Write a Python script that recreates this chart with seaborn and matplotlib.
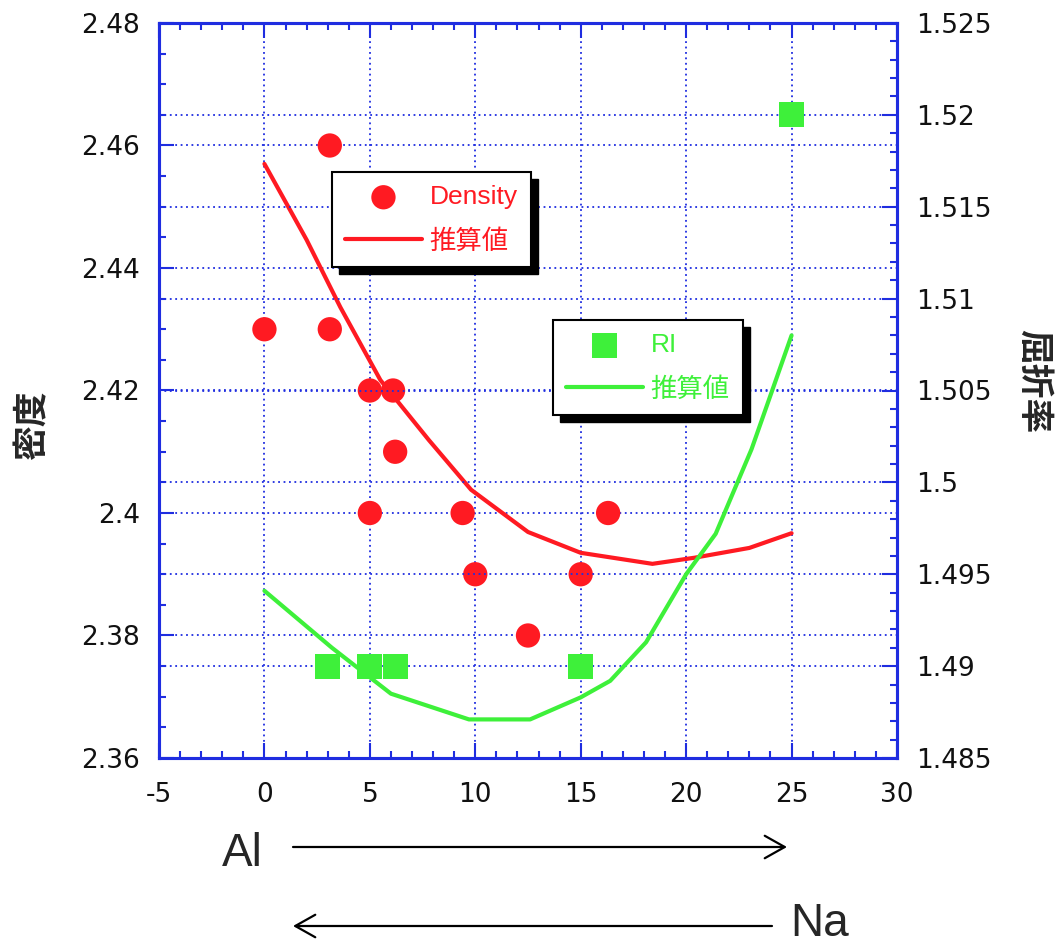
import matplotlib
matplotlib.use("Agg")
import matplotlib.pyplot as plt
import seaborn as sns
from matplotlib.ticker import MultipleLocator, FixedLocator
from matplotlib.patches import Rectangle
from matplotlib.font_manager import FontProperties
from matplotlib.transforms import IdentityTransform

# ---------------- data ----------------
density_x = [0, 3.1, 3.1, 5, 6.1, 6.2, 5, 9.4, 10, 12.5, 15, 16.3]
density_y = [2.43, 2.46, 2.43, 2.42, 2.42, 2.41, 2.40, 2.40, 2.39, 2.38, 2.39, 2.40]

ri_x = [3, 5, 6.2, 15, 25]
ri_y = [1.49, 1.49, 1.49, 1.49, 1.52]

density_est_x = [0, 2, 3.6, 5.5, 7.8, 9.8, 12.5, 15, 18.4, 20.4, 23, 25]
density_est_y = [2.457, 2.4446, 2.4336, 2.4217, 2.4119, 2.4038, 2.3969, 2.3935,
                 2.3917, 2.3927, 2.3943, 2.3967]

ri_est_x = [0, 3.2, 6, 9.7, 12.6, 15, 16.4, 18.1, 20, 21.4, 23.1, 25]
ri_est_y = [1.4941, 1.4910, 1.4885, 1.4871, 1.4871, 1.4883, 1.4892, 1.4913,
            1.4950, 1.4972, 1.5018, 1.5080]

x_ticks = [-5, 0, 5, 10, 15, 20, 25, 30]
x_tick_labels = ["-5", "0", "5", "10", "15", "20", "25", "30"]
left_ticks = [2.36, 2.38, 2.40, 2.42, 2.44, 2.46, 2.48]
left_tick_labels = ["2.36", "2.38", "2.4", "2.42", "2.44", "2.46", "2.48"]
right_ticks = [1.485, 1.49, 1.495, 1.50, 1.505, 1.51, 1.515, 1.52, 1.525]
right_tick_labels = ["1.485", "1.49", "1.495", "1.5", "1.505", "1.51", "1.515", "1.52", "1.525"]

left_label = "密度"
right_label = "屈折率"
density_label = "Density"
ri_label = "RI"
est_label = "推算値"

# ---------------- style ----------------
sns.set_style("white")
plt.rcParams["font.family"] = ["DejaVu Sans", "Noto Sans CJK JP"]
plt.rcParams["axes.unicode_minus"] = False

BLUE = "#1f2de0"
RED = "#ff1a22"
GREEN = "#3ef03a"
W, H = 1058, 944

fig = plt.figure(figsize=(W / 100, H / 100), dpi=100)
ax = fig.add_axes([159 / W, 1 - 758 / H, (897 - 159) / W, (758 - 23) / H])
ax2 = ax.twinx()

# ---------------- density (left axis) ----------------
sns.lineplot(x=density_est_x, y=density_est_y, ax=ax, color=RED, lw=3,
             label=est_label, legend=False, zorder=3)
sns.scatterplot(x=density_x, y=density_y, ax=ax, color=RED, s=17.5 ** 2,
                marker="o", edgecolor="none", label=density_label,
                legend=False, zorder=4)

# ---------------- RI (right axis) ----------------
sns.lineplot(x=ri_est_x, y=ri_est_y, ax=ax2, color=GREEN, lw=3,
             label=est_label, legend=False, zorder=3)
sns.scatterplot(x=ri_x, y=ri_y, ax=ax2, color=GREEN, s=18 ** 2,
                marker="s", edgecolor="none", label=ri_label,
                legend=False, zorder=4)

# ---------------- axes ----------------
ax.set_xlim(-5, 30)
ax.set_ylim(2.36, 2.48)
ax2.set_ylim(1.485, 1.525)

ax.xaxis.set_major_locator(FixedLocator(x_ticks))
ax.set_xticklabels(x_tick_labels)
ax.xaxis.set_minor_locator(MultipleLocator(1))
ax.yaxis.set_major_locator(FixedLocator(left_ticks))
ax.set_yticklabels(left_tick_labels)
ax.yaxis.set_minor_locator(MultipleLocator(0.005))
ax2.yaxis.set_major_locator(FixedLocator(right_ticks))
ax2.set_yticklabels(right_tick_labels)
ax2.yaxis.set_minor_locator(MultipleLocator(0.001))

for a in (ax, ax2):
    for sp in a.spines.values():
        sp.set_color(BLUE)
        sp.set_linewidth(2.2)
    a.set_xlabel("")
    a.set_ylabel("")

ax.tick_params(axis="both", which="both", direction="in", color=BLUE, width=1.5,
               labelsize=19, labelcolor="#111111")
ax.tick_params(which="major", length=11)
ax.tick_params(which="minor", length=5)
ax.tick_params(axis="x", which="both", top=True, bottom=True, pad=17)
ax.tick_params(axis="y", which="both", left=True, right=False, pad=13.5)
ax2.tick_params(axis="y", which="both", direction="in", color=BLUE, width=1.5,
                left=False, right=True, labelsize=19, labelcolor="#111111", pad=14)
ax2.tick_params(axis="y", which="major", length=11)
ax2.tick_params(axis="y", which="minor", length=5)

grid_kw = dict(color=BLUE, linestyle=(0, (1, 2)), linewidth=1.3)
ax.grid(axis="x", which="major", **grid_kw)
ax.grid(axis="y", which="major", **grid_kw)
ax2.grid(axis="y", which="major", **grid_kw)
ax2.grid(axis="x", visible=False)

# ---------------- axis titles ----------------
cjk_bold = dict(family=["Noto Sans CJK JP", "DejaVu Sans"], weight="bold", size=25)
fig.text(32 / W, 1 - 425 / H, left_label, rotation=90, ha="center", va="center", **cjk_bold)
fig.text(1034 / W, 1 - 381 / H, right_label, rotation=-90, ha="center", va="center", **cjk_bold)

# ---------------- legends ----------------
h_dens_line, h_dens_pts = ax.get_legend_handles_labels()[0][:2]
h_ri_line, h_ri_pts = ax2.get_legend_handles_labels()[0][:2]

leg_font = FontProperties(family=["Liberation Sans", "Noto Sans CJK JP"], size=19)
leg_kw = dict(loc="upper left", bbox_transform=fig.transFigure, borderaxespad=0,
              frameon=True, fancybox=False, edgecolor="black", framealpha=1,
              handlelength=2.9, handletextpad=0.3, borderpad=0.5,
              labelspacing=0.75, prop=leg_font)
leg1 = ax2.legend(handles=[h_dens_pts, h_dens_line], labels=[density_label, est_label],
                  bbox_to_anchor=(332 / W, 1 - 172 / H), labelcolor=RED, **leg_kw)
ax2.add_artist(leg1)
leg2 = ax2.legend(handles=[h_ri_pts, h_ri_line], labels=[ri_label, est_label],
                  bbox_to_anchor=(553 / W, 1 - 320 / H), labelcolor=GREEN, **leg_kw)
for leg in (leg1, leg2):
    leg.get_frame().set_linewidth(1.5)
    leg.set_zorder(6)

fig.canvas.draw()
for leg in (leg1, leg2):
    bb = leg.get_window_extent()
    shadow = Rectangle((bb.x0 + 7, bb.y0 - 7), bb.width, bb.height,
                       transform=IdentityTransform(), facecolor="black",
                       edgecolor="black", zorder=5.9)
    ax2.add_artist(shadow)

# ---------------- Al / Na arrows ----------------
arrow_kw = dict(arrowstyle="->,head_length=0.8,head_width=0.45", lw=1.6,
                color="black", shrinkA=0, shrinkB=0, mutation_scale=18)
ax.annotate("", xy=(787, H - 847), xytext=(293, H - 847), xycoords="figure pixels",
            textcoords="figure pixels", arrowprops=arrow_kw, annotation_clip=False)
ax.annotate("", xy=(293, H - 926), xytext=(772, H - 926), xycoords="figure pixels",
            textcoords="figure pixels", arrowprops=arrow_kw, annotation_clip=False)
big_font = dict(family=["Liberation Sans", "DejaVu Sans"], size=33)
fig.text(222 / W, (H - 866) / H, "Al", ha="left", va="baseline", **big_font)
fig.text(790 / W, (H - 936) / H, "Na", ha="left", va="baseline", **big_font)

fig.savefig("out.png", dpi=100)
